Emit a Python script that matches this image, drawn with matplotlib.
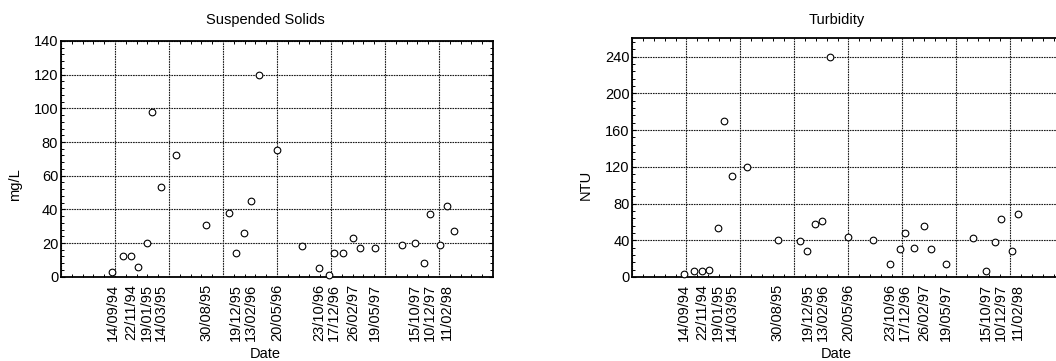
import matplotlib
matplotlib.use("Agg")
import matplotlib.pyplot as plt
import matplotlib.dates as mdates
import matplotlib.transforms as mtransforms
from matplotlib.ticker import LinearLocator, AutoMinorLocator, MultipleLocator, NullFormatter
import datetime as dt

plt.rcParams['font.family'] = ['Liberation Sans', 'DejaVu Sans']

# sampling dates (dd/mm/yy)
ss_dates = ["14/09/94", "22/10/94", "22/11/94", "18/12/94", "19/01/95", "10/02/95",
            "14/03/95", "08/05/95", "30/08/95", "22/11/95", "19/12/95", "17/01/96",
            "13/02/96", "12/03/96", "20/05/96", "21/08/96", "23/10/96", "30/11/96",
            "17/12/96", "19/01/97", "26/02/97", "25/03/97", "19/05/97", "28/08/97",
            "15/10/97", "17/11/97", "10/12/97", "19/01/98", "11/02/98", "09/03/98"]
ss_values = [3, 12, 12, 6, 20, 98, 53, 72, 31, 38, 14, 26, 45, 120, 75, 18, 5, 1,
             14, 14, 23, 17, 17, 19, 20, 8, 37, 19, 42, 27]

tu_dates = ss_dates[:29]
tu_values = [3, 6, 6, 8, 53, 170, 110, 120, 40, 39, 28, 58, 61, 240, 44, 40, 14, 30,
             48, 32, 56, 31, 14, 43, 6, 38, 63, 28, 69]

label_dates = ["14/09/94", "22/11/94", "19/01/95", "14/03/95", "30/08/95", "19/12/95",
               "13/02/96", "20/05/96", "23/10/96", "17/12/96", "26/02/97", "19/05/97",
               "15/10/97", "10/12/97", "11/02/98"]

x_start = "06/03/94"
x_span_days = 1611


def parse(s):
    return mdates.date2num(dt.datetime.strptime(s, "%d/%m/%y"))


W, H = 1056, 361
fig = plt.figure(figsize=(W / 100, H / 100), dpi=100)

panels = [
    dict(rect=[61 / W, (H - 276.7) / H, 432 / W, 235.7 / H], dates=ss_dates, vals=ss_values,
         title="Suspended Solids", ylabel="mg/L", ylim=(0, 140), ystep=20, yminor=5,
         ylab_y=0.389),
    dict(rect=[632.3 / W, (H - 277) / H, 432 / W, 238.7 / H], dates=tu_dates, vals=tu_values,
         title="Turbidity", ylabel="NTU", ylim=(0, 260), ystep=40, yminor=5,
         ylab_y=0.385),
]

x0 = parse(x_start)
for p in panels:
    ax = fig.add_axes(p["rect"])
    xs = [parse(d) for d in p["dates"]]
    ax.plot(xs, p["vals"], linestyle="none", marker="o", markersize=4.8,
            markerfacecolor="white", markeredgecolor="black", markeredgewidth=0.8,
            zorder=3, clip_on=False)
    ax.set_xlim(x0, x0 + x_span_days)
    ax.set_ylim(*p["ylim"])
    ax.xaxis.set_major_locator(LinearLocator(9))
    ax.xaxis.set_major_formatter(NullFormatter())
    ax.xaxis.set_minor_locator(AutoMinorLocator(5))
    ax.yaxis.set_major_locator(MultipleLocator(p["ystep"]))
    ax.yaxis.set_minor_locator(AutoMinorLocator(p["yminor"]))
    ax.tick_params(which="both", direction="in", top=True, right=True, colors="black")
    ax.tick_params(which="major", length=3, width=0.8, labelsize=10.5, pad=2)
    ax.tick_params(which="minor", length=2, width=0.7)
    ax.tick_params(axis="x", which="major", length=0)
    ax.grid(True, which="major", color="#1a1a1a", linestyle=(0, (1.5, 0.8)), linewidth=0.8)
    for s in ax.spines.values():
        s.set_linewidth(1.3)
        s.set_color("black")

    blend = mtransforms.blended_transform_factory(ax.transAxes, fig.transFigure)
    # title, placed at same figure height for both panels
    ax.text(0.473, (H - 20) / H, p["title"], fontsize=10.5, ha="center", va="center",
            transform=blend)
    ax.set_ylabel(p["ylabel"], fontsize=10.5)
    ax.yaxis.set_label_coords(-0.091, p["ylab_y"])

    sec = ax.secondary_xaxis("bottom")
    sec.set_xticks([parse(d) for d in label_dates])
    sec.set_xticklabels(label_dates, rotation=90, fontsize=10.5)
    sec.tick_params(length=0, pad=5)
    sec.spines["bottom"].set_visible(False)

    ax.text(0.473, 3 / H, "Date", fontsize=10.5, ha="center", va="baseline",
            transform=blend)

fig.savefig("out.png", dpi=100)
